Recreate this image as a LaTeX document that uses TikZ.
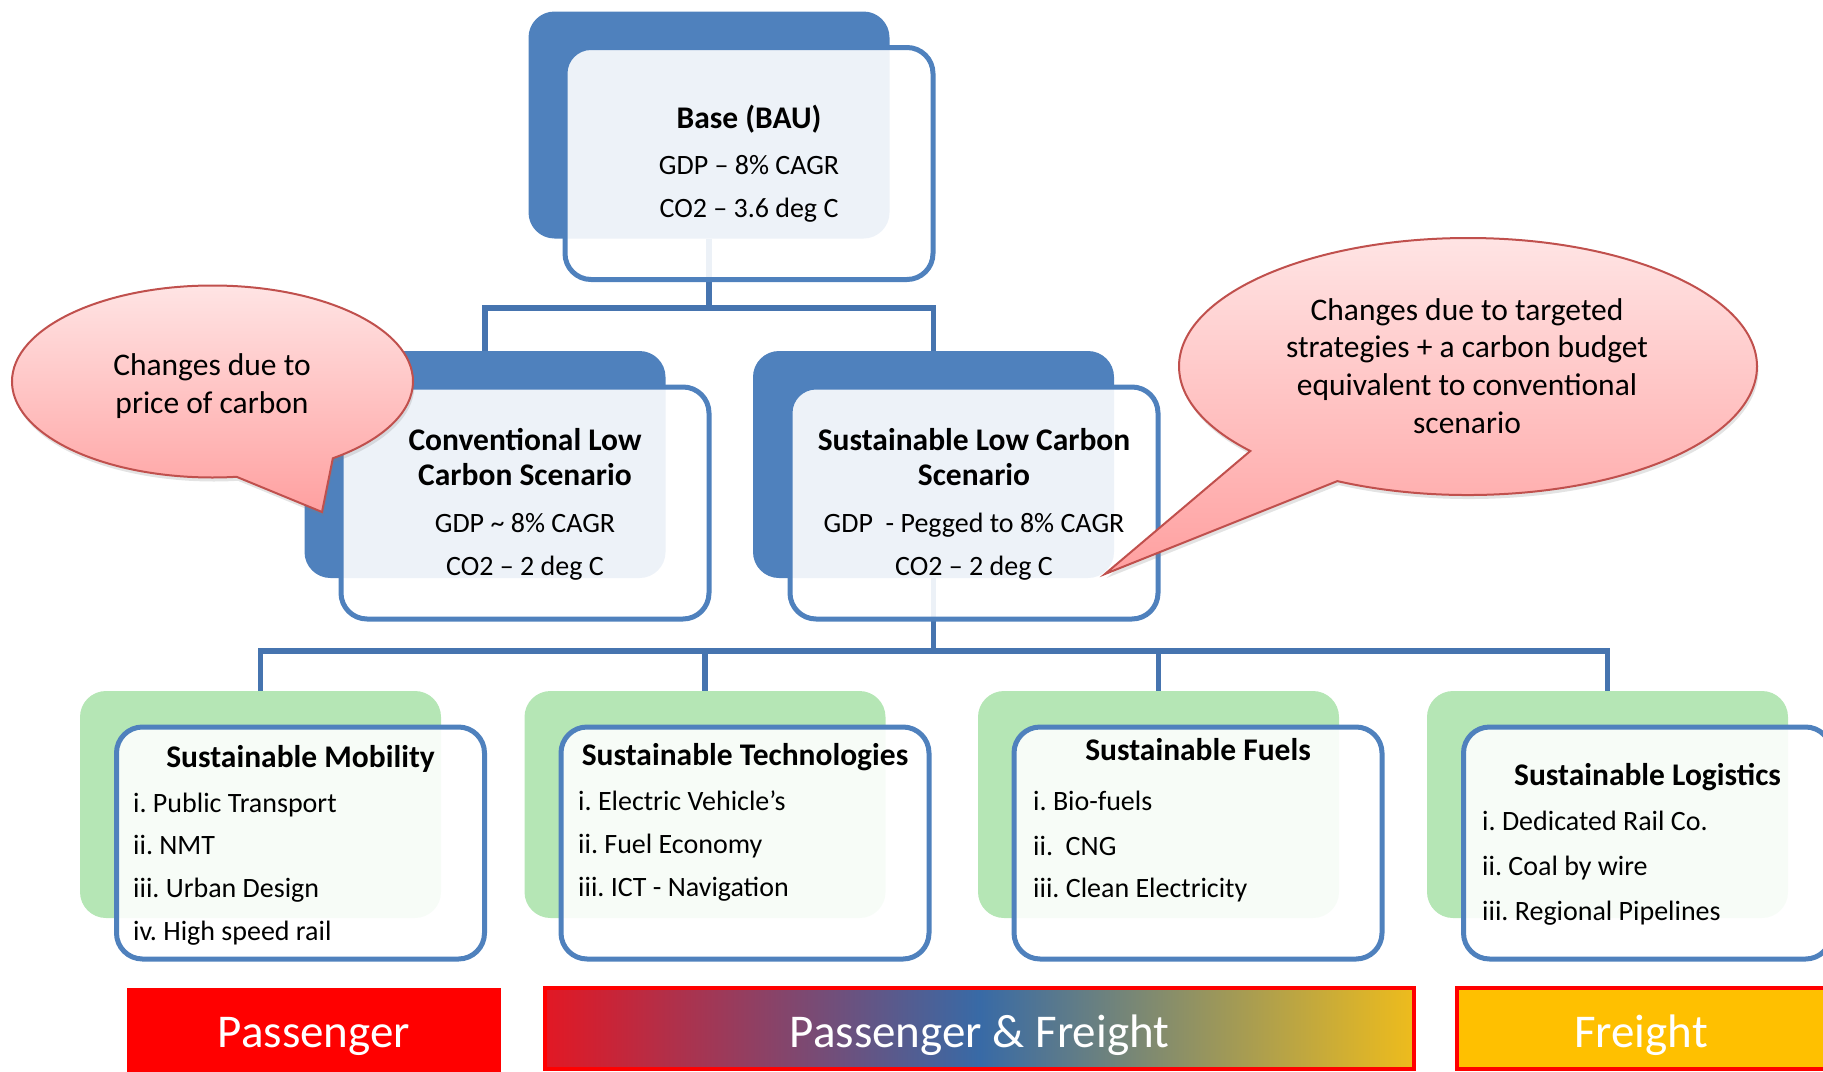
\documentclass[tikz,border=0pt]{standalone}
\usepackage{fontspec}
\setmainfont{Carlito}
\frenchspacing
\usetikzlibrary{shapes.callouts,shadows}
\definecolor{boxblue}{RGB}{79,129,189}
\definecolor{connblue}{RGB}{70,116,175}
\definecolor{boxgreen}{RGB}{181,230,181}
\definecolor{calloutline}{RGB}{192,80,77}
\definecolor{calloutTop}{RGB}{255,228,228}
\definecolor{calloutBot}{RGB}{255,160,160}
\definecolor{barred}{RGB}{255,0,0}
\definecolor{gradred}{RGB}{226,24,36}
\definecolor{gradblue}{RGB}{56,106,166}
\definecolor{gradgold}{RGB}{238,188,28}
\definecolor{freightgold}{RGB}{255,192,0}
\newcommand{\myreg}{\fontsize{28}{34}\selectfont}
\newcommand{\mybold}{\fontsize{31.5}{38}\selectfont\bfseries}
\newcommand{\mycall}{\fontsize{31.5}{38}\selectfont}
\newcommand{\mybar}{\fontsize{47}{56}\selectfont}
\tikzset{
  backbox/.style={rectangle, rounded corners=26pt, minimum width=361pt, minimum height=227pt, inner sep=0pt},
  frontbox/.style={rectangle, rounded corners=26pt, minimum width=368pt, minimum height=232pt, inner sep=0pt,
     draw=boxblue, line width=5pt, fill=white, fill opacity=0.9},
  conn/.style={draw=connblue, line width=5.5pt},
  ttl/.style={anchor=base, inner sep=0pt, font=\mybold},
  reg/.style={anchor=base, inner sep=0pt, font=\myreg},
  item/.style={anchor=base west, inner sep=0pt, font=\myreg},
  ctext/.style={anchor=base, inner sep=0pt, font=\mycall},
  bartext/.style={anchor=base, inner sep=0pt, font=\mybar, text=white},
  callout/.style={ellipse callout, draw=calloutline, line width=2pt, top color=calloutTop, bottom color=calloutBot,
     inner sep=0pt, drop shadow={shadow xshift=1.5pt, shadow yshift=-4pt, opacity=0.22}},
  barbox/.style={rectangle, inner sep=0pt, minimum height=81pt}
}
\begin{document}
\begin{tikzpicture}[x=1pt,y=-1pt]
\useasboundingbox (0,0) rectangle (1823,1071);
\clip (0,0) rectangle (1823,1071);

% back boxes
\node[backbox, fill=boxblue] (baseB) at (709,125) {};
\node[backbox, fill=boxblue] (convB) at (485,464.5) {};
\node[backbox, fill=boxblue] (sustB) at (933.5,464.5) {};
\node[backbox, fill=boxgreen] (mobB) at (260.5,804.5) {};
\node[backbox, fill=boxgreen] (techB) at (705,804.5) {};
\node[backbox, fill=boxgreen] (fuelB) at (1158.5,804.5) {};
\node[backbox, fill=boxgreen] (logB) at (1607.5,804.5) {};

% connectors
\coordinate (j1) at (709,308);
\coordinate (j2) at (933.5,651);
\draw[conn] (baseB.south) -- (j1);
\draw[conn] (j1) -| (convB.north);
\draw[conn] (j1) -| (sustB.north);
\draw[conn] (sustB.south) -- (j2);
\draw[conn] (j2) -| (mobB.north);
\draw[conn] (j2) -| (techB.north);
\draw[conn] (j2) -| (fuelB.north);
\draw[conn] (j2) -| (logB.north);

% front boxes
\node[frontbox] (baseF) at (749,163.5) {};
\node[frontbox] (convF) at (525,503) {};
\node[frontbox] (sustF) at (974,503) {};
\node[frontbox] (mobF) at (300.5,843) {};
\node[frontbox] (techF) at (745,843) {};
\node[frontbox] (fuelF) at (1198,843) {};
\node[frontbox] (logF) at (1647.5,843) {};

% texts: base
\node[ttl] (baseT1) at (749,128) {Base (BAU)};
\node[reg] (baseT2) at (749,174) {GDP – 8\% CAGR};
\node[reg] (baseT3) at (749,217) {CO2 – 3.6 deg C};
% conventional
\node[ttl] (convT1) at (525,450) {Conventional Low};
\node[ttl] (convT2) at (525,485) {Carbon Scenario};
\node[reg] (convT3) at (525,532) {GDP \textasciitilde{} 8\% CAGR};
\node[reg] (convT4) at (525,575) {CO2 – 2 deg C};
% sustainable
\node[ttl] (sustT1) at (974,450) {Sustainable Low Carbon};
\node[ttl] (sustT2) at (974,485) {Scenario};
\node[reg] (sustT3) at (974,532) {GDP~~- Pegged to 8\% CAGR};
\node[reg] (sustT4) at (974,575) {CO2 – 2 deg C};
% mobility
\node[ttl] (mobT) at (300.5,767) {Sustainable Mobility};
\node[item] (mob1) at (133,812) {i. Public Transport};
\node[item] (mob2) at (133,854) {ii. NMT};
\node[item] (mob3) at (133,897) {iii. Urban Design};
\node[item] (mob4) at (133,940) {iv. High speed rail};
% technologies
\node[ttl] (techT) at (745,765) {Sustainable Technologies};
\node[item] (tech1) at (578,810) {i. Electric Vehicle's};
\node[item] (tech2) at (578,853) {ii. Fuel Economy};
\node[item] (tech3) at (578,896) {iii. ICT - Navigation};
% fuels
\node[ttl] (fuelT) at (1198,760) {Sustainable Fuels};
\node[item] (fuel1) at (1033,810) {i. Bio-fuels};
\node[item] (fuel2) at (1033,855) {ii.~~CNG};
\node[item] (fuel3) at (1033,897) {iii. Clean Electricity};
% logistics
\node[ttl] (logT) at (1647.5,785) {Sustainable Logistics};
\node[item] (log1) at (1482,830) {i. Dedicated Rail Co.};
\node[item] (log2) at (1482,875) {ii. Coal by wire};
\node[item] (log3) at (1482,920) {iii. Regional Pipelines};

% callouts
\node[callout, minimum width=401pt, minimum height=192pt,
      callout absolute pointer={(322,512)}, callout pointer arc=30] (cL) at (212.5,381.5) {};
\node[ctext] (cLt1) at (212,375) {Changes due to};
\node[ctext] (cLt2) at (212,413) {price of carbon};
\node[callout, minimum width=578pt, minimum height=257pt,
      callout absolute pointer={(1105,574)}, callout pointer arc=22] (cR) at (1468,366.5) {};
\node[ctext] (cRt1) at (1467,320) {Changes due to targeted};
\node[ctext] (cRt2) at (1467,357.7) {strategies + a carbon budget};
\node[ctext] (cRt3) at (1467,395.3) {equivalent to conventional};
\node[ctext] (cRt4) at (1467,433) {scenario};

% bars
\node[barbox, fill=barred, minimum width=374pt, minimum height=90pt] (passB) at (314,1033) {};
\node[barbox, draw=barred, line width=4pt, left color=gradred, right color=gradgold, middle color=gradblue,
      minimum width=869pt] (pfB) at (979.5,1028.5) {};
\node[barbox, draw=barred, line width=4pt, fill=freightgold, minimum width=375pt] (frB) at (1644.5,1028.5) {};
\node[bartext] (passT) at (314,1047) {Passenger};
\node[bartext] (pfT) at (979.5,1047) {Passenger \& Freight};
\node[bartext] (frT) at (1641,1047) {Freight};
\end{tikzpicture}
\end{document}
